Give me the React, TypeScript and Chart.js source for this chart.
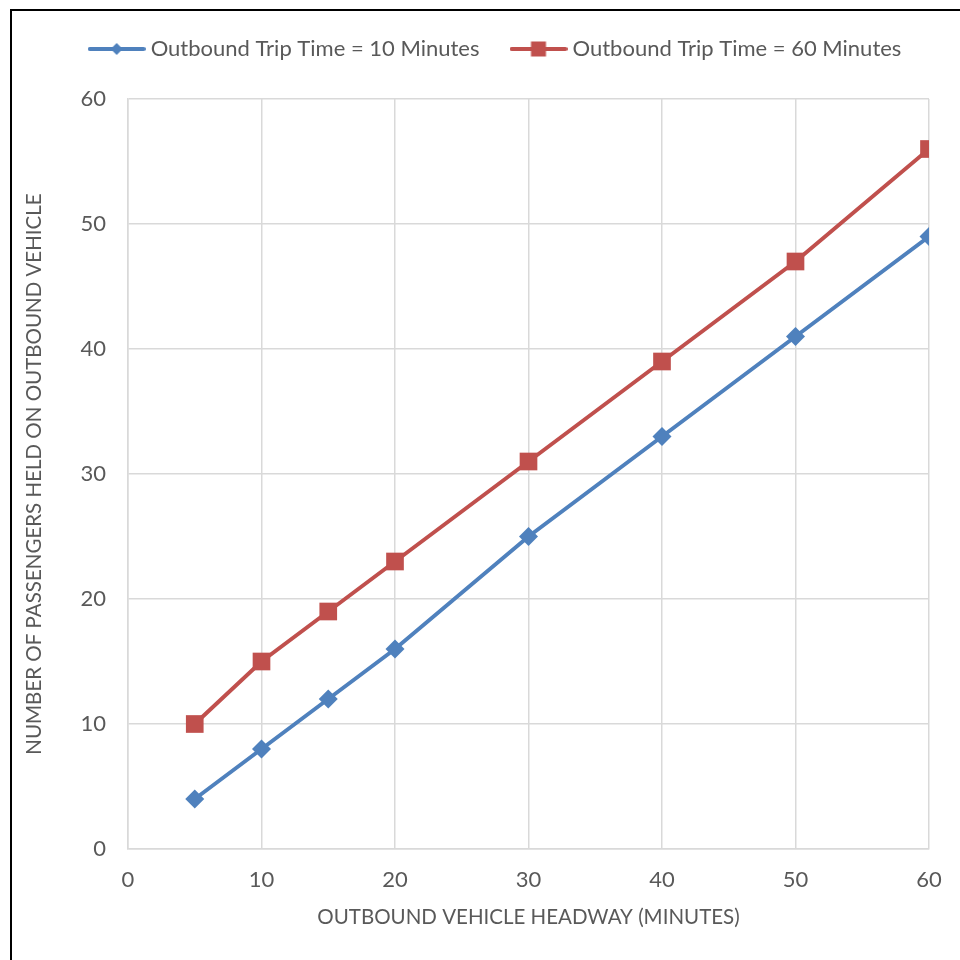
import React, { useEffect, useRef } from "react";
import { Chart, registerables } from "chart.js";

Chart.register(...registerables);

const headways = [5, 10, 15, 20, 30, 40, 50, 60];
const trip10 = [4, 8, 12, 16, 25, 33, 41, 49];
const trip60 = [10, 15, 19, 23, 31, 39, 47, 56];
const seriesNames = ["Outbound Trip Time = 10 Minutes", "Outbound Trip Time = 60 Minutes"];
const xTitle = "OUTBOUND VEHICLE HEADWAY (MINUTES)";
const yTitle = "NUMBER OF PASSENGERS HELD ON OUTBOUND VEHICLE";

const BLUE = "#4F81BD";
const RED = "#C0504D";
const TEXT = "#595959";
const GRID = "#D9D9D9";
const FONT = "Lato, 'Open Sans', sans-serif";

function legendIcon(color: string, marker: "diamond" | "square"): HTMLCanvasElement {
  const c = document.createElement("canvas");
  c.width = 58;
  c.height = 20;
  const ctx = c.getContext("2d")!;
  ctx.strokeStyle = color;
  ctx.lineWidth = 4;
  ctx.lineCap = "round";
  ctx.beginPath();
  ctx.moveTo(2, 10);
  ctx.lineTo(56, 10);
  ctx.stroke();
  ctx.fillStyle = color;
  if (marker === "diamond") {
    ctx.beginPath();
    ctx.moveTo(29, 4);
    ctx.lineTo(35, 10);
    ctx.lineTo(29, 16);
    ctx.lineTo(23, 10);
    ctx.closePath();
    ctx.fill();
  } else {
    ctx.fillRect(21.5, 2.5, 15, 15);
  }
  return c;
}

const LEGEND_DX = 33;
const LEGEND_DY = 2;

const legendHeightPlugin = {
  id: "legendHeight",
  afterInit(chart: any) {
    const lg = chart.legend;
    if (!lg) return;
    const origFit = lg.fit.bind(lg);
    lg.fit = function () {
      origFit();
      this.height = 99;
    };
    const origDraw = lg.draw.bind(lg);
    lg.draw = function () {
      const ctx = chart.ctx;
      ctx.save();
      ctx.translate(LEGEND_DX, LEGEND_DY);
      origDraw();
      ctx.restore();
    };
  },
};

export default function App() {
  const ref = useRef<HTMLCanvasElement | null>(null);

  useEffect(() => {
    if (!ref.current) return;
    const icons = [legendIcon(BLUE, "diamond"), legendIcon(RED, "square")];
    const chart = new Chart(ref.current, {
      type: "line",
      plugins: [legendHeightPlugin],
      data: {
        datasets: [
          {
            label: seriesNames[0],
            data: headways.map((x, i) => ({ x, y: trip10[i] })),
            borderColor: BLUE,
            backgroundColor: BLUE,
            borderWidth: 4,
            pointStyle: "rectRot",
            pointRadius: 9.5,
            pointBorderWidth: 0,
            pointBackgroundColor: BLUE,
          },
          {
            label: seriesNames[1],
            data: headways.map((x, i) => ({ x, y: trip60[i] })),
            borderColor: RED,
            backgroundColor: RED,
            borderWidth: 4,
            pointStyle: "rect",
            pointRadius: 12.5,
            pointBorderWidth: 0,
            pointBackgroundColor: RED,
          },
        ],
      },
      options: {
        animation: false,
        responsive: false,
        maintainAspectRatio: false,
        layout: { padding: { top: 0, right: 31, left: 0, bottom: 0 } },
        plugins: {
          tooltip: { enabled: false },
          legend: {
            position: "top",
            labels: {
              color: TEXT,
              font: { family: FONT, size: 22 },
              usePointStyle: true,
              pointStyleWidth: 46,
              padding: 36,
              generateLabels: (chart: any) =>
                chart.data.datasets.map((ds: any, i: number) => ({
                  text: ds.label,
                  pointStyle: icons[i],
                  fillStyle: ds.borderColor,
                  strokeStyle: ds.borderColor,
                  lineWidth: 0,
                  hidden: false,
                  datasetIndex: i,
                  fontColor: TEXT,
                })),
            },
          },
        },
        scales: {
          x: {
            type: "linear",
            min: 0,
            max: 60,
            ticks: { stepSize: 10, color: TEXT, font: { family: FONT, size: 22 }, padding: 18 },
            grid: { color: GRID, lineWidth: 1.5, drawTicks: false },
            border: { color: GRID, width: 1.5 },
            title: {
              display: true,
              text: xTitle,
              color: TEXT,
              font: { family: FONT, size: 20.5 },
              padding: { top: 0, bottom: 30 },
            },
            afterFit: (scale: any) => {
              scale.height = 111;
            },
          },
          y: {
            min: 0,
            max: 60,
            ticks: { stepSize: 10, color: TEXT, font: { family: FONT, size: 22 }, padding: 22 },
            grid: { color: GRID, lineWidth: 1.5, drawTicks: false },
            border: { color: GRID, width: 1.5 },
            title: {
              display: true,
              text: yTitle,
              color: TEXT,
              font: { family: FONT, size: 20.5 },
              padding: { top: 22, bottom: 0 },
            },
            afterFit: (scale: any) => {
              scale.width = 128;
            },
          },
        },
      },
    });
    return () => chart.destroy();
  }, []);

  return (
    <div style={{ position: "absolute", left: 0, top: 0, width: 960, height: 960, overflow: "hidden", background: "#fff" }}>
      <canvas ref={ref} width={960} height={960} style={{ position: "absolute", left: 0, top: 0 }} />
      <div
        style={{
          position: "absolute",
          left: 10,
          top: 9,
          width: 980,
          height: 980,
          borderLeft: "2px solid #000",
          borderTop: "2px solid #000",
          pointerEvents: "none",
        }}
      />
    </div>
  );
}
